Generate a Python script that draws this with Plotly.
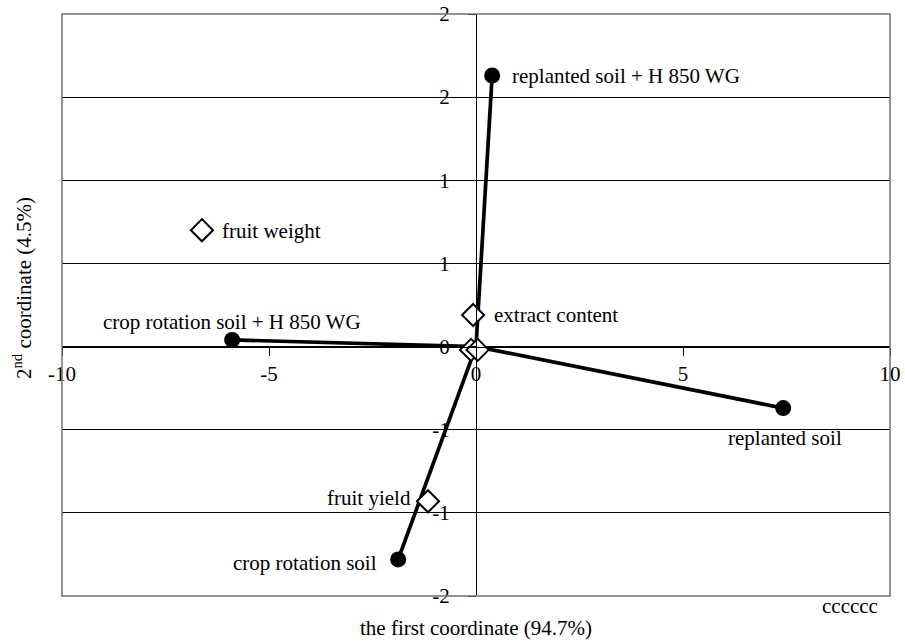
import plotly.graph_objects as go

# Filled points (objects) with lines to origin
obj_names = ["replanted soil + H 850 WG", "crop rotation soil + H 850 WG", "replanted soil", "crop rotation soil"]
obj_x = [0.39, -5.89, 7.42, -1.88]
obj_y = [1.63, 0.04, -0.37, -1.28]

# Open diamonds (variables)
var_names = ["fruit weight", "extract content", "fruit yield"]
var_x = [-6.62, -0.07, -1.16]
var_y = [0.70, 0.19, -0.93]
# unlabeled diamonds overlapping near the origin
var2_x = [-0.12, 0.04]
var2_y = [-0.02, -0.02]

x_ticks = [-10, -5, 0, 5, 10]
x_ticktext = ["-10", "-5", "0", "5", "10"]
y_ticks = [2, 1.5, 1, 0.5, 0, -0.5, -1, -1.5]
y_ticktext = ["2", "2", "1", "1", "0", "-1", "-1", "-2"]

FONT = "Liberation Serif"
FS = 21
fig = go.Figure()

for x, y in zip(obj_x, obj_y):
    fig.add_trace(go.Scatter(x=[0, x], y=[0, y], mode="lines",
                             line=dict(color="black", width=3.7), showlegend=False, hoverinfo="skip"))

fig.add_trace(go.Scatter(x=obj_x, y=obj_y, mode="markers",
                         marker=dict(symbol="circle", size=16, color="black"),
                         showlegend=False))

fig.add_trace(go.Scatter(x=var_x + var2_x, y=var_y + var2_y, mode="markers",
                         marker=dict(symbol="diamond", size=17, color="white",
                                     line=dict(color="black", width=2)),
                         showlegend=False))

# label placement (offsets in px)
obj_lab = [
    dict(xanchor="left", yanchor="middle", xshift=18, yshift=0),
    dict(xanchor="center", yanchor="middle", xshift=0, yshift=18),
    dict(xanchor="center", yanchor="middle", xshift=2, yshift=-30),
    dict(xanchor="right", yanchor="middle", xshift=-19, yshift=-4),
]
var_lab = [
    dict(xanchor="left", yanchor="middle", xshift=18, yshift=-1),
    dict(xanchor="left", yanchor="middle", xshift=19, yshift=0),
    dict(xanchor="right", yanchor="middle", xshift=-15, yshift=3),
]
annotations = []
for n, x, y, p in zip(obj_names, obj_x, obj_y, obj_lab):
    annotations.append(dict(text=n, x=x, y=y, xref="x", yref="y", showarrow=False,
                            font=dict(family=FONT, size=FS, color="black"), **p))
for n, x, y, p in zip(var_names, var_x, var_y, var_lab):
    annotations.append(dict(text=n, x=x, y=y, xref="x", yref="y", showarrow=False,
                            font=dict(family=FONT, size=FS, color="black"), **p))

L, T, W, H = 62, 14, 828, 582
annotations += [
    dict(text="the first coordinate (94.7%)", xref="paper", yref="paper",
         x=(476 - L) / W, y=-(628 - (T + H)) / H, xanchor="center", yanchor="middle",
         showarrow=False, font=dict(family=FONT, size=FS, color="black")),
    dict(text="cccccc", xref="paper", yref="paper",
         x=(850 - L) / W, y=-(606 - (T + H)) / H, xanchor="center", yanchor="middle",
         showarrow=False, font=dict(family=FONT, size=FS, color="black")),
    dict(text="2<sup>nd</sup> coordinate (4.5%)", xref="paper", yref="paper",
         x=(22 - L) / W, y=((T + H) - 288) / H, textangle=-90, xanchor="center", yanchor="middle",
         showarrow=False, font=dict(family=FONT, size=FS, color="black")),
]

fig.update_layout(
    width=905, height=642,
    margin=dict(l=L, r=905 - L - W, t=T, b=642 - T - H, autoexpand=False),
    plot_bgcolor="white", paper_bgcolor="white",
    font=dict(family=FONT, size=FS, color="black"),
    xaxis=dict(range=[-10, 10], tickvals=x_ticks, ticktext=x_ticktext,
               showgrid=False, zeroline=False,
               showline=True, linecolor="black", linewidth=1,
               ticks="outside", ticklen=8, tickcolor="black",
               anchor="free", position=1.5 / 3.5, automargin=False),
    yaxis=dict(range=[-1.5, 2], tickvals=y_ticks, ticktext=y_ticktext,
               showgrid=True, gridcolor="black", gridwidth=1, zeroline=False,
               showline=True, linecolor="black", linewidth=1,
               ticks="outside", ticklen=8, tickcolor="black", ticklabelstandoff=14,
               anchor="free", position=0.5, automargin=False),
    shapes=[dict(type="rect", xref="paper", yref="paper", x0=0, y0=0, x1=1, y1=1,
                 line=dict(color="#707070", width=1.5))],
    annotations=annotations,
)

fig.write_html("out.html", config={"displayModeBar": False},
               post_script="document.body.style.margin='0';document.body.style.overflow='hidden';")
